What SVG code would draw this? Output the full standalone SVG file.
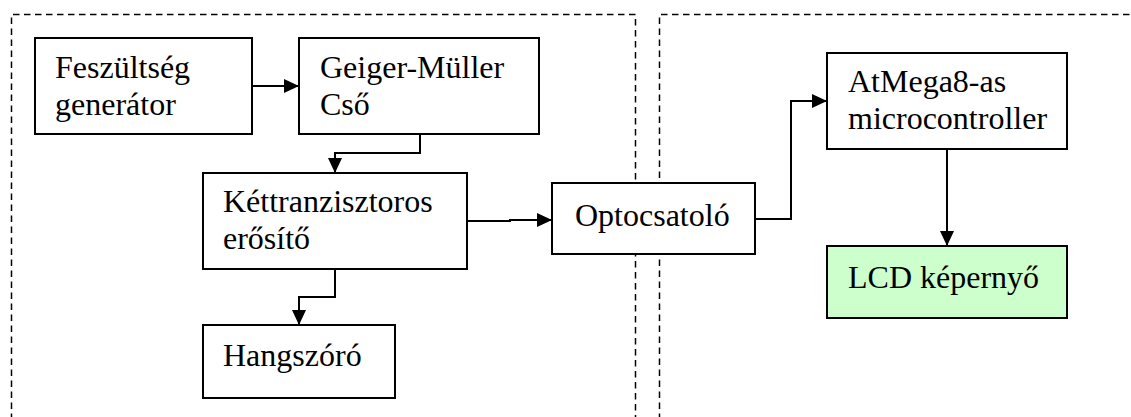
<svg xmlns="http://www.w3.org/2000/svg" width="1131" height="417" viewBox="0 0 1131 417">
<style>
.box{fill:#fff;stroke:#000;stroke-width:2}
.lcd{fill:#ccffcc;stroke:#000;stroke-width:2}
.t{font-family:"Liberation Serif","Times New Roman",serif;font-size:32px;fill:#000}
.c{fill:none;stroke:#000;stroke-width:2}
.d{fill:none;stroke:#000;stroke-width:1.5;stroke-dasharray:6.5,4.5}
</style>
<defs>
<marker id="a" markerWidth="15" markerHeight="14" refX="15" refY="7" orient="auto" markerUnits="userSpaceOnUse">
<path d="M0,0 L15,7 L0,14 Z" fill="#000"/>
</marker>
</defs>
<g id="frames">
<path class="d" d="M11.5,420 L11.5,14.5 L635.5,14.5 L635.5,420"/>
<path class="d" d="M659.5,420 L659.5,14.5 L1135,14.5"/>
</g>
<g id="feszultseg">
<rect class="box" x="35" y="38" width="217" height="96"/>
<text class="t" x="55" y="78">Feszültség</text>
<text class="t" x="55" y="115">generátor</text>
</g>
<g id="geiger">
<rect class="box" x="299" y="38" width="240" height="96"/>
<text class="t" x="320" y="78">Geiger-Müller</text>
<text class="t" x="320" y="115">Cső</text>
</g>
<g id="kettranzisztoros">
<rect class="box" x="203" y="173" width="264" height="96"/>
<text class="t" x="223" y="212">Kéttranzisztoros</text>
<text class="t" x="223" y="249">erősítő</text>
</g>
<g id="hangszoro">
<rect class="box" x="203" y="325" width="192" height="73"/>
<text class="t" x="223" y="366">Hangszóró</text>
</g>
<g id="optocsatolo">
<rect class="box" x="552" y="183" width="203" height="71"/>
<text class="t" x="575" y="226">Optocsatoló</text>
</g>
<g id="atmega">
<rect class="box" x="827" y="53" width="240" height="96"/>
<text class="t" x="848" y="92">AtMega8-as</text>
<text class="t" x="848" y="129">microcontroller</text>
</g>
<g id="lcd">
<rect class="lcd" x="827" y="246" width="240" height="72"/>
<text class="t" x="848" y="288">LCD képernyő</text>
</g>
<g id="connectors">
<path class="c" d="M252,86 L299,86" marker-end="url(#a)"/>
<path class="c" d="M420,134 L420,153 L335,153 L335,173" marker-end="url(#a)"/>
<path class="c" d="M467,221 L510,221 L510,220 L552,220" marker-end="url(#a)"/>
<path class="c" d="M335,269 L335,297 L299,297 L299,325" marker-end="url(#a)"/>
<path class="c" d="M755,219 L791,219 L791,101 L827,101" marker-end="url(#a)"/>
<path class="c" d="M947,149 L947,246" marker-end="url(#a)"/>
</g>
</svg>
